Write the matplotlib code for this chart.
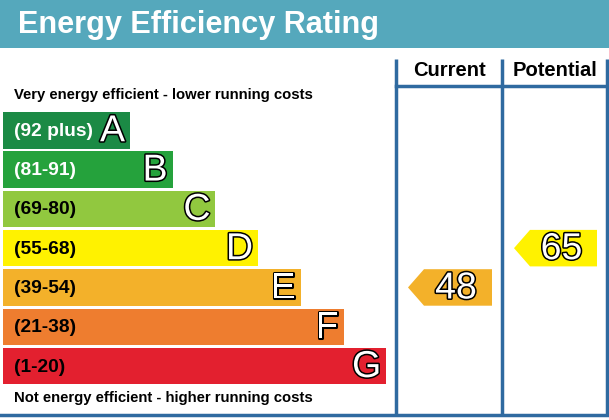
import matplotlib
matplotlib.use('Agg')
import matplotlib.pyplot as plt
import matplotlib.patheffects as pe
from matplotlib.patches import Rectangle, Polygon

# rating bands, best to worst
bands = ['A', 'B', 'C', 'D', 'E', 'F', 'G']
ranges = ['(92 plus)', '(81-91)', '(69-80)', '(55-68)', '(39-54)', '(21-38)', '(1-20)']
lows = [92, 81, 69, 55, 39, 21, 1]
colours = ['#1b8a45', '#25a23c', '#91c83f', '#fff200', '#f3b12a', '#ee7d2f', '#e3202f']
label_colours = ['white', 'white', 'black', 'black', 'black', 'black', 'black']

current = 48
potential = 65

title = 'Energy Efficiency Rating'
top_note = 'Very energy efficient - lower running costs'
bottom_note = 'Not energy efficient - higher running costs'
columns = ['Current', 'Potential']

plt.rcParams['font.family'] = ['Liberation Sans', 'DejaVu Sans']

fig = plt.figure(figsize=(6.09, 4.2), dpi=100)
ax = fig.add_axes([0, 0, 1, 1])
ax.set_xlim(0, 609)
ax.set_ylim(420, 0)
ax.axis('off')

line_c = '#2f6aa0'
outline = [pe.withStroke(linewidth=2.2, foreground='black')]

# header band
ax.add_patch(Rectangle((0, 0), 609, 48, color='#55a8bc', lw=0))
ax.text(18, 25, title, color='white', fontsize=22.1, fontweight='bold', va='center')

# table frame
col_x = [396, 502, 607]
for x in col_x:
    ax.plot([x, x], [59, 415], color=line_c, lw=2.5, solid_capstyle='butt')
ax.plot([396, 607], [86, 86], color=line_c, lw=2.5)
ax.plot([0, 609], [415, 415], color=line_c, lw=2.5)
for i, name in enumerate(columns):
    ax.text((col_x[i] + col_x[i + 1]) / 2, 71, name, fontsize=14.5, fontweight='bold',
            ha='center', va='center')

ax.text(14, 95, top_note, fontsize=10.7, fontweight='bold', va='center')
ax.text(14, 398, bottom_note, fontsize=10.7, fontweight='bold', va='center')

# bars
top0, pitch, h = 112, 39.3, 36.5
for i, b in enumerate(bands):
    y = top0 + i * pitch
    w = 127 + i * 42.7
    ax.add_patch(Rectangle((3, y), w, h, color=colours[i], lw=0))
    ax.text(14, y + h / 2 + 1, ranges[i], color=label_colours[i], fontsize=13.8,
            fontweight='bold', va='center')
    ax.text(3 + w - 5, y + h / 2 + 1, b, color='white', fontsize=27, ha='right',
            va='center', path_effects=outline)


def band_of(v):
    for i, lo in enumerate(lows):
        if v >= lo:
            return i
    return len(lows) - 1


def arrow(v, col):
    i = band_of(v)
    y = top0 + i * pitch
    x0 = col_x[col] + 12
    x1 = col_x[col + 1] - 10
    tip = 16
    pts = [(x0, y + h / 2), (x0 + tip, y), (x1, y), (x1, y + h), (x0 + tip, y + h)]
    ax.add_patch(Polygon(pts, closed=True, color=colours[i], lw=0))
    ax.text((x0 + tip + x1) / 2 - 2, y + h / 2 + 1, str(v), color='white', fontsize=27,
            ha='center', va='center', path_effects=outline)


arrow(current, 0)
arrow(potential, 1)

fig.savefig('out.png', dpi=100)
